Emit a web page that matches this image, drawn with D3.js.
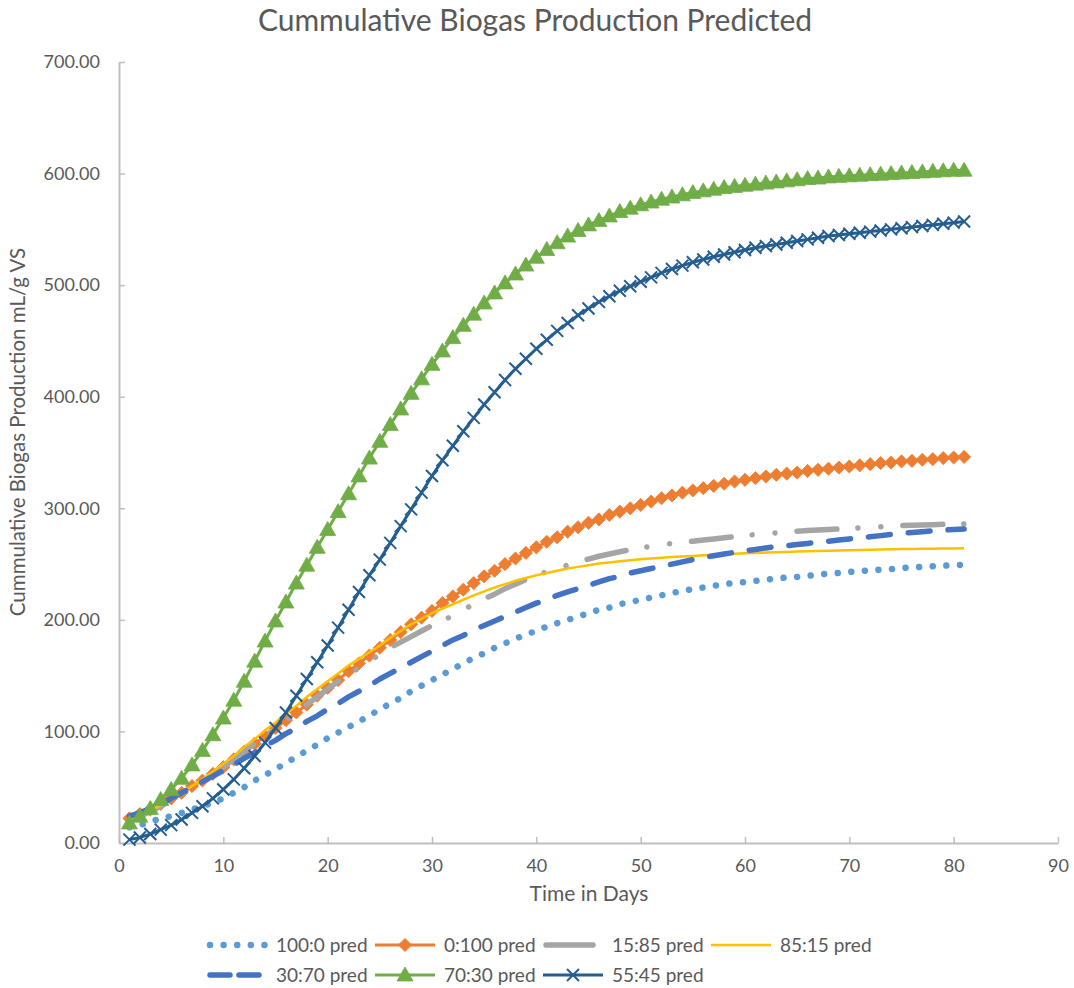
<!DOCTYPE html>
<html>
<head>
<meta charset="utf-8">
<script src="https://cdn.jsdelivr.net/npm/d3@7"></script>
<style>
  body { margin: 0; background: #ffffff; }
  svg { display: block; }
  text { font-family: Lato, "Open Sans", sans-serif; fill: #595959; }
</style>
</head>
<body>
<svg id="chart" width="1074" height="988"></svg>
<script>
// Day index of each predicted point
const days = [1,2,3,4,5,6,7,8,9,10,11,12,13,14,15,16,17,18,19,20,
  21,22,23,24,25,26,27,28,29,30,31,32,33,34,35,36,37,38,39,40,
  41,42,43,44,45,46,47,48,49,50,51,52,53,54,55,56,57,58,59,60,
  61,62,63,64,65,66,67,68,69,70,71,72,73,74,75,76,77,78,79,80,81];

// Predicted cumulative biogas, mL/g VS, one value per day
const pred100_0 = [14,16,19,22,24,27,30,33,36,40, 45,50,56,61,66,72,77,83,88,94,
  99,104,109,114,120,125,130,136,141,146, 151,156,161,166,170,175,179,183,187,190,
  194,197,200,203,206,209,211,214,216,218, 220,222,224,226,227.5,229,230.5,232,233,234,
  235,236,237,238,238.5,239.5,240.5,241.5,242,243, 243.5,244.5,245,245.5,246.5,247,247.5,248,248.5,249, 249.3];

const pred0_100 = [22,26,30,35,40,45,51,56,62,68, 75,82,89,96,103,110,117,124,132,139,
  146,154,161,168,175,182,189,196,202,208, 215,221,227,233,239,244,250,255,260,265,
  270,274,279,283,287,290,294,297,300,303, 306,309,311.5,314,316,318,320,322,324,325.5,
  327,328.5,330,331,332,333.5,334.5,335.5,336.5,337.5, 338.5,339.5,340.5,341,342,342.5,343.5,344,345,345.5, 346];

const pred15_85 = [20,24,28,33,38,44,50,56,62,68, 75,82,89,96,103,110,117,124,131,138,
  145,151,157,163,169,175,180,185,190,195, 199,204,209,214,219,223,228,232,236,240,
  243,246,249,252,254.5,257,259,261,263,264.5, 266,267.5,268.5,269.5,270.5,271.5,272.5,273.5,274.5,275.5,
  276.5,277,278,278.5,279.5,280,280.5,281,281.5,282, 282.5,283,283.5,284,284.5,284.8,285,285.3,285.6,285.8, 286];

const pred85_15 = [21,25,29,34,39,45,51,57,64,71, 78,86,93,101,108,116,123,131,138,145,
  152,159,165,171,177,184,190,196,201,206, 210,214,218,222,225.5,229,232,235,237.5,240,
  242,244,246,247.5,249,250.5,251.5,252.5,253.5,254.3, 255,255.7,256.3,256.8,257.3,257.8,258.3,258.8,259.2,259.6,
  260,260.3,260.6,260.9,261.2,261.5,261.7,262,262.2,262.4, 262.6,262.8,263,263.2,263.4,263.5,263.7,263.8,263.9,264, 264.1];

const pred30_70 = [24,27,31,35,40,45,50,55,60,65, 70,76,81,87,92,98,103,109,114,120,
  125,131,136,141,147,152,157,162,167,172, 177,182,186,191,195,199,203,207,211,215,
  218,222,225,228,231,234,237,239,242,244, 246,248,250,252,254,256,257.5,259,260.5,262,
  263,264.5,265.5,266.5,267.5,268.5,269.5,270.5,271.5,272.5, 273.5,274.5,275.5,276.5,277.5,278.3,279,279.8,280.5,281, 281.5];

const pred70_30 = [18,24,31,39,48,58,70,83,97,112, 128,145,163,181,199,216,233,249,265,281,
  297,313,329,345,360,375,389,403,416,429, 441,453,464,474,484,493,502,510,518,525,
  532,538,544,549,554,558,562,566,569,572, 574.5,577,579,581,583,584.5,586,587.5,588.5,589.5,
  590.5,591.5,592.5,593.5,594.5,595.5,596,597,597.5,598, 598.5,599,599.5,600,600.5,601,601.5,602,602.5,603, 603];

const pred55_45 = [3,5,8,12,16,21,27,33,40,48, 57,67,78,90,103,117,132,147,162,177,
  193,209,225,240,254,269,284,299,314,329, 343,356,369,381,393,404,415,425,434,443,
  451,459,466,473,479,485,490,495,499,503, 507,511,514.5,517.5,520.5,523,525.5,527.5,529.5,531.5,
  533.5,535,536.5,538,539.5,541,542.5,544,545,546, 547,548,549,550,551,552,553,554,555,556, 557];

const xTickValues = [0,10,20,30,40,50,60,70,80,90];
const yTickValues = [0,100,200,300,400,500,600,700];

const seriesNames = ["100:0 pred","0:100 pred","15:85 pred","85:15 pred","30:70 pred","70:30 pred","55:45 pred"];
const seriesValues = [pred100_0, pred0_100, pred15_85, pred85_15, pred30_70, pred70_30, pred55_45];

// Line / marker styling per series
const styles = [
  { color: "#5B9BD5", width: 6.5, dash: "0.01 13.6", cap: "round", marker: null },
  { color: "#ED7D31", width: 3,   dash: null,        cap: "butt",  marker: "diamond" },
  { color: "#A5A5A5", width: 5.5, dash: "40 21 0.01 23 0.01 22", cap: "round", marker: null },
  { color: "#FFC000", width: 2.5, dash: null,        cap: "butt",  marker: null },
  { color: "#4472C4", width: 5.5, dash: "22 18",     cap: "round", marker: null },
  { color: "#70AD47", width: 3,   dash: null,        cap: "butt",  marker: "triangle" },
  { color: "#255E91", width: 3,   dash: null,        cap: "butt",  marker: "x" }
];

const svg = d3.select("#chart");
const plot = { left: 119, right: 1058, top: 62, bottom: 843 };

const x = d3.scaleLinear().domain([0, 90]).range([plot.left, plot.right]);
const y = d3.scaleLinear().domain([0, 700]).range([plot.bottom, plot.top]);

// Title
svg.append("text")
  .attr("x", 535).attr("y", 31)
  .attr("text-anchor", "middle")
  .style("font-size", "30px")
  .text("Cummulative Biogas Production Predicted");

// Axes
const gx = svg.append("g")
  .attr("transform", `translate(0,${plot.bottom})`)
  .call(d3.axisBottom(x).tickValues(xTickValues).tickSizeInner(-6).tickSizeOuter(0).tickPadding(16));
const gy = svg.append("g")
  .attr("transform", `translate(${plot.left},0)`)
  .call(d3.axisLeft(y).tickValues(yTickValues).tickSizeInner(-6).tickSizeOuter(0).tickPadding(19)
    .tickFormat(d3.format(".2f")));

[gx, gy].forEach(g => {
  g.select(".domain").attr("stroke", "#BFBFBF").attr("stroke-width", 2);
  g.selectAll(".tick line").attr("stroke", "#BFBFBF").attr("stroke-width", 1.5);
  g.selectAll(".tick text").style("font-size", "18px").style("font-family", "Lato, 'Open Sans', sans-serif").attr("fill", "#595959");
});

// Axis titles
svg.append("text")
  .attr("x", 589).attr("y", 901)
  .attr("text-anchor", "middle")
  .style("font-size", "21px")
  .text("Time in Days");

svg.append("text")
  .attr("transform", "translate(25,432) rotate(-90)")
  .attr("text-anchor", "middle")
  .style("font-size", "20.5px")
  .text("Cummulative Biogas Production mL/g VS");

// Marker shapes
function markerPath(type) {
  if (type === "diamond") return "M0,-6.6L6.6,0L0,6.6L-6.6,0Z";
  if (type === "triangle") return "M0,-8L8,6L-8,6Z";
  if (type === "x") return "M-6,-6L6,6M-6,6L6,-6";
  return null;
}

function drawMarker(g, type, color, cx, cy) {
  const p = g.append("path")
    .attr("d", markerPath(type))
    .attr("transform", `translate(${cx},${cy})`);
  if (type === "x") {
    p.attr("fill", "none").attr("stroke", color).attr("stroke-width", 2);
  } else {
    p.attr("fill", color).attr("stroke", color).attr("stroke-width", 0.8);
  }
}

const line = d3.line().x(d => x(d[0])).y(d => y(d[1]));

const plotG = svg.append("g");
seriesValues.forEach((vals, i) => {
  const st = styles[i];
  const pts = days.map((d, k) => [d, vals[k]]);
  const g = plotG.append("g");
  const path = g.append("path")
    .datum(pts)
    .attr("d", line)
    .attr("fill", "none")
    .attr("stroke", st.color)
    .attr("stroke-width", st.width)
    .attr("stroke-linecap", st.cap)
    .attr("stroke-linejoin", "round");
  if (st.dash) path.attr("stroke-dasharray", st.dash);
  if (st.marker) {
    pts.forEach(p => drawMarker(g, st.marker, st.color, x(p[0]), y(p[1])));
  }
});

// Legend: two rows, four columns
const legendCol0 = 207, legendColW = 168, legendRowY = [945, 975], sampleLen = 60;
seriesNames.forEach((name, i) => {
  const st = styles[i];
  const row = Math.floor(i / 4), col = i % 4;
  const lx = legendCol0 + col * legendColW;
  const ly = legendRowY[row];
  const g = svg.append("g");
  const s = g.append("line")
    .attr("x1", lx).attr("x2", lx + sampleLen)
    .attr("y1", ly).attr("y2", ly)
    .attr("stroke", st.color)
    .attr("stroke-width", st.width)
    .attr("stroke-linecap", st.cap);
  if (i === 0) s.attr("stroke-dasharray", "0.01 13.6").attr("x1", lx + 3);
  if (i === 2) s.attr("x1", lx + 3).attr("x2", lx + 50);
  if (i === 4) s.attr("stroke-dasharray", "20 9").attr("x1", lx + 3);
  if (st.marker) drawMarker(g, st.marker, st.color, lx + sampleLen / 2, ly);
  g.append("text")
    .attr("x", lx + 69).attr("y", ly)
    .attr("dy", "0.35em")
    .style("font-size", "19px")
    .text(name);
});
</script>
</body>
</html>
